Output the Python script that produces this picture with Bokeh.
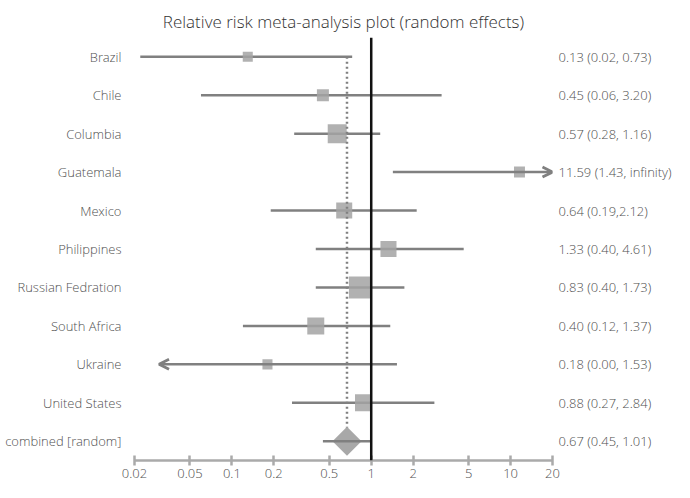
import numpy as np
from bokeh.plotting import figure
from bokeh.models import (Range1d, FixedTicker, NumeralTickFormatter, LinearAxis,
                          Span, Arrow, OpenHead, ColumnDataSource)
from bokeh.embed import file_html
from bokeh.resources import INLINE

# ---------------- data ----------------
countries = ["Brazil", "Chile", "Columbia", "Guatemala", "Mexico", "Philippines",
             "Russian Fedration", "South Africa", "Ukraine", "United States"]
rr = [0.13, 0.45, 0.57, 11.59, 0.64, 1.33, 0.83, 0.40, 0.18, 0.88]
lower = [0.022, 0.06, 0.28, 1.43, 0.19, 0.40, 0.40, 0.12, 0.03, 0.27]
upper = [0.73, 3.20, 1.16, 20.0, 2.12, 4.61, 1.73, 1.37, 1.53, 2.84]
open_lower = [False, False, False, False, False, False, False, False, True, False]
open_upper = [False, False, False, True, False, False, False, False, False, False]
weights = [4.2, 6.0, 15.0, 5.0, 10.7, 10.7, 20.2, 12.0, 4.2, 12.0]  # percent
ci_labels = ["0.13 (0.02, 0.73)", "0.45 (0.06, 3.20)", "0.57 (0.28, 1.16)",
             "11.59 (1.43, infinity)", "0.64 (0.19,2.12)", "1.33 (0.40, 4.61)",
             "0.83 (0.40, 1.73)", "0.40 (0.12, 1.37)", "0.18 (0.00, 1.53)",
             "0.88 (0.27, 2.84)"]
combined_label = "combined [random]"
combined_rr = 0.67
combined_lower = 0.45
combined_upper = 1.01
combined_ci = "0.67 (0.45, 1.01)"
x_ticks = [0.02, 0.05, 0.1, 0.2, 0.5, 1, 2, 5, 10, 20]

# ---------------- layout helpers ----------------
n = len(countries)
ys = list(range(n, 0, -1))          # Brazil on top, combined at 0
all_labels = countries + [combined_label]
all_ci = ci_labels + [combined_ci]
all_y = ys + [0]

LINE = "#808080"
BOX = "#a3a3a3"
TXT = "#505050"
FONT = "'Open Sans Light', 'Open Sans'"

p = figure(width=674, height=482, x_axis_type="log",
           x_range=Range1d(x_ticks[0], x_ticks[-1]), y_range=Range1d(-0.5, n + 0.5),
           output_backend="svg", toolbar_location=None,
           min_border_left=134, min_border_right=119, min_border_top=37,
           min_border_bottom=22)
p.outline_line_color = None
p.grid.visible = False
p.background_fill_color = "white"
p.border_fill_color = "white"

p.title.text = "Relative risk meta-analysis plot (random effects)"
p.title.align = "center"
p.title.vertical_align = "top"
p.title.text_font = FONT
p.title.text_font_size = "17px"
p.title.text_font_style = "normal"
p.title.text_color = "#333333"
p.title.standoff = 6

# x axis
xa = p.xaxis[0]
xa.ticker = FixedTicker(ticks=x_ticks, minor_ticks=[])
xa.formatter = NumeralTickFormatter(format="0.[00]")
xa.axis_line_color = "#aaaaaa"
xa.axis_line_width = 2.5
xa.major_tick_line_color = "#aaaaaa"
xa.major_tick_line_width = 2.5
xa.major_tick_in = 5
xa.major_tick_out = 5
xa.minor_tick_line_color = None
xa.major_label_text_font = FONT
xa.major_label_text_font_size = "13px"
xa.major_label_text_color = TXT
xa.major_label_standoff = 3

# left axis: study names
ya = p.yaxis[0]
ya.ticker = FixedTicker(ticks=all_y, minor_ticks=[])
ya.major_label_overrides = {y: lab for y, lab in zip(all_y, all_labels)}
ya.axis_line_color = None
ya.major_tick_line_color = None
ya.minor_tick_line_color = None
ya.major_tick_out = 0
ya.major_tick_in = 0
ya.major_label_standoff = 13
ya.major_label_text_font = FONT
ya.major_label_text_font_size = "13px"
ya.major_label_text_color = TXT

# right axis: estimates
ra = LinearAxis(ticker=FixedTicker(ticks=all_y, minor_ticks=[]),
                major_label_overrides={y: lab for y, lab in zip(all_y, all_ci)})
ra.axis_line_color = None
ra.major_tick_line_color = None
ra.minor_tick_line_color = None
ra.major_tick_out = 0
ra.major_tick_in = 0
ra.major_label_standoff = 6
ra.major_label_text_font = FONT
ra.major_label_text_font_size = "13px"
ra.major_label_text_color = TXT
p.add_layout(ra, "right")

# whiskers (closed)
closed = [i for i in range(n) if not (open_lower[i] or open_upper[i])]
p.segment(x0=[lower[i] for i in closed], x1=[upper[i] for i in closed],
          y0=[ys[i] for i in closed], y1=[ys[i] for i in closed],
          line_color=LINE, line_width=2.5)

# whiskers with open ends -> arrows
for i in range(n):
    if open_upper[i]:
        p.add_layout(Arrow(x_start=lower[i], x_end=upper[i], y_start=ys[i], y_end=ys[i],
                           line_color=LINE, line_width=2.5,
                           end=OpenHead(size=10, line_color=LINE, line_width=2.8)))
    if open_lower[i]:
        p.add_layout(Arrow(x_start=upper[i], x_end=lower[i], y_start=ys[i], y_end=ys[i],
                           line_color=LINE, line_width=2.5,
                           end=OpenHead(size=10, line_color=LINE, line_width=2.8)))

# boxes sized by weight
sizes = [4.9 * np.sqrt(w) for w in weights]
src = ColumnDataSource(dict(x=rr, y=ys, s=sizes))
p.scatter("x", "y", size="s", marker="square", source=src,
          fill_color=BOX, fill_alpha=0.85, line_color=None)

# combined diamond
p.scatter([combined_rr], [0], size=20.5, marker="square", angle=np.pi / 4,
          fill_color=BOX, fill_alpha=0.95, line_color=None)
p.segment(x0=[combined_lower], x1=[combined_upper], y0=[0], y1=[0],
          line_color=LINE, line_width=2.5)

# dotted line at combined estimate
p.segment(x0=[combined_rr], x1=[combined_rr], y0=[ys[0]], y1=[0.36],
          line_color="#808080", line_width=2.5, line_dash="2 3")

# null line
p.add_layout(Span(location=1, dimension="height", line_color="#111111", line_width=2.5))

open("out.html", "w").write(file_html(p, INLINE))
